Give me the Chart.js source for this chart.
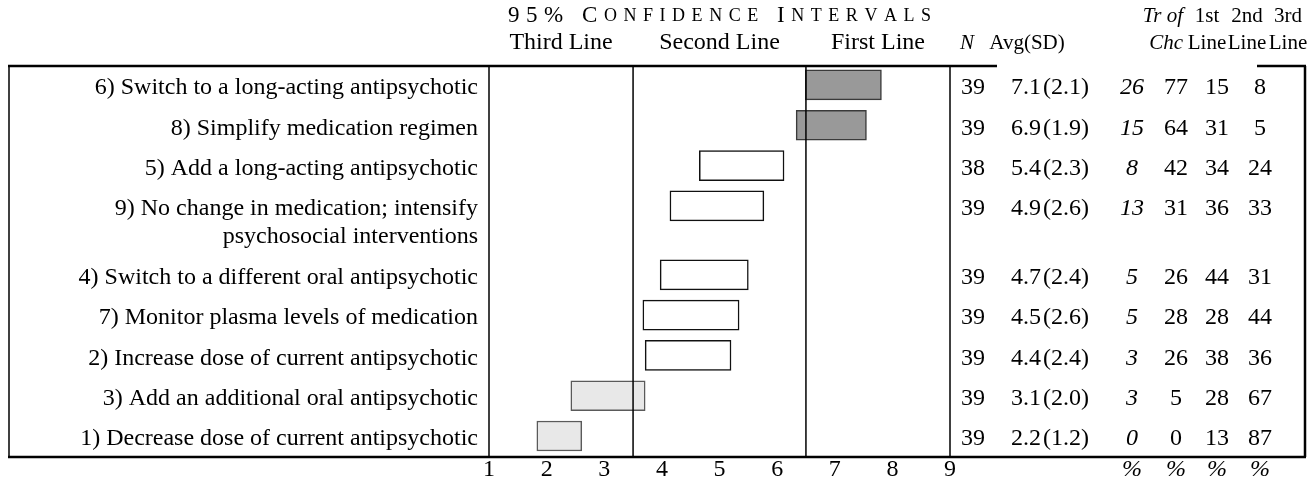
<!DOCTYPE html>
<html>
<head>
<meta charset="utf-8">
<script src="https://cdn.jsdelivr.net/npm/chart.js@4.4.0/dist/chart.umd.min.js"></script>
<style>
  html, body { margin: 0; padding: 0; background: #fff; }
  #wrap { width: 1315px; height: 483px; }
</style>
</head>
<body>
<div id="wrap"><canvas id="chart" width="1315" height="483"></canvas></div>
<script>
// rows in the order of the figure (top to bottom)
const treatments = [
  '6) Switch to a long-acting antipsychotic',
  '8) Simplify medication regimen',
  '5) Add a long-acting antipsychotic',
  ['9) No change in medication; intensify', 'psychosocial interventions'],
  '4) Switch to a different oral antipsychotic',
  '7) Monitor plasma levels of medication',
  '2) Increase dose of current antipsychotic',
  '3) Add an additional oral antipsychotic',
  '1) Decrease dose of current antipsychotic'
];
const ciLow  = [6.49, 6.33, 4.65, 4.14, 3.97, 3.67, 3.71, 2.42, 1.83];
const ciHigh = [7.81, 7.55, 6.12, 5.77, 5.50, 5.34, 5.20, 3.71, 2.61];
const nResp = [39, 39, 38, 39, 39, 39, 39, 39, 39];
const avgRating = ['7.1', '6.9', '5.4', '4.9', '4.7', '4.5', '4.4', '3.1', '2.2'];
const sdRating  = ['2.1', '1.9', '2.3', '2.6', '2.4', '2.6', '2.4', '2.0', '1.2'];
const treatmentOfChoice = [26, 15, 8, 13, 5, 5, 3, 3, 0];
const firstLine  = [77, 64, 42, 31, 26, 28, 26, 5, 0];
const secondLine = [15, 31, 34, 36, 44, 28, 38, 28, 13];
const thirdLine  = [8, 5, 24, 33, 31, 44, 36, 67, 87];
const xTicks = [1, 2, 3, 4, 5, 6, 7, 8, 9];
const sectionNames = ['Third Line', 'Second Line', 'First Line'];
const sectionBounds = [1, 3.5, 6.5, 9];

const SERIF = '"Liberation Serif", "Times New Roman", serif';
const FS = 24;
const HFS = 21;

// two-line labels get a taller row
const EXTRA_LINE = 0.71;
const rowPos = [];
let acc = 0;
treatments.forEach(t => {
  rowPos.push(acc);
  acc += 1 + (Array.isArray(t) ? (t.length - 1) * EXTRA_LINE : 0);
});

// bar shade follows the zone the mean rating falls in
const zoneFill = ['#e8e8e8', '#ffffff', '#999999'];
const zoneEdge = ['#5a5a5a', '#111111', '#3a3a3a'];
const zoneOf = v => (v >= sectionBounds[2] ? 2 : v >= sectionBounds[1] ? 1 : 0);
const fills = avgRating.map(v => zoneFill[zoneOf(parseFloat(v))]);
const edges = avgRating.map(v => zoneEdge[zoneOf(parseFloat(v))]);

function font(size, italic) {
  return (italic ? 'italic ' : '') + size + 'px ' + SERIF;
}

function drawSpaced(ctx, parts, cx, cy, targetW) {
  // parts: [text, size]; draws char by char, stretched to targetW
  const chars = [];
  parts.forEach(([t, s]) => { for (const c of t) chars.push([c, s]); });
  let natural = 0;
  chars.forEach(([c, s]) => { ctx.font = font(s); natural += ctx.measureText(c).width; });
  const gap = (targetW - natural) / (chars.length - 1);
  let x = cx - targetW / 2;
  ctx.textAlign = 'left';
  chars.forEach(([c, s]) => {
    ctx.font = font(s);
    ctx.fillText(c, x, cy);
    x += ctx.measureText(c).width + gap;
  });
}

const tablePlugin = {
  id: 'tableFrame',
  afterDatasetsDraw(chart) {
    const { ctx, chartArea: a, scales: { x, y } } = chart;
    ctx.save();
    ctx.strokeStyle = '#000';
    ctx.lineWidth = 1.5;
    sectionBounds.forEach(v => {
      const px = x.getPixelForValue(v);
      ctx.beginPath();
      ctx.moveTo(px, a.top);
      ctx.lineTo(px, a.bottom);
      ctx.stroke();
    });

    // outer frame
    const left = 9, right = 1305;
    ctx.lineWidth = 1.5;
    ctx.beginPath();
    ctx.moveTo(left, a.top); ctx.lineTo(left, a.bottom);
    ctx.stroke();
    ctx.lineWidth = 2.5;
    ctx.beginPath();
    ctx.moveTo(right, a.top); ctx.lineTo(right, a.bottom);
    ctx.stroke();
    ctx.beginPath();
    ctx.moveTo(left - 1, a.top); ctx.lineTo(997, a.top);
    ctx.moveTo(1257, a.top); ctx.lineTo(right + 1, a.top);
    ctx.moveTo(left - 1, a.bottom); ctx.lineTo(right + 1, a.bottom);
    ctx.stroke();

    ctx.fillStyle = '#000';
    ctx.textBaseline = 'middle';

    // header
    const midX = (a.left + a.right) / 2;
    drawSpaced(ctx, [['95%', FS - 1], [' ', FS - 1], ['C', FS - 1], ['ONFIDENCE', 18],
      [' ', FS - 1], ['I', FS - 1], ['NTERVALS', 18]], midX, 16, 423);
    ctx.font = font(FS);
    ctx.textAlign = 'center';
    sectionNames.forEach((n, i) => {
      const cx = (x.getPixelForValue(sectionBounds[i]) + x.getPixelForValue(sectionBounds[i + 1])) / 2;
      ctx.fillText(n, cx, 43);
    });

    ctx.font = font(HFS, true);
    ctx.fillText('N', 967, 43);
    ctx.textAlign = 'right';
    ctx.fillText('Tr of', 1183, 16);
    ctx.fillText('Chc', 1183, 43);
    ctx.font = font(HFS);
    ctx.textAlign = 'center';
    ctx.fillText('Avg(SD)', 1027, 43);
    const lineCols = [1207, 1247, 1288];
    ['1st', '2nd', '3rd'].forEach((h, k) => {
      ctx.fillText(h, lineCols[k], 16);
      ctx.fillText('Line', lineCols[k], 43);
    });

    const cols = { n: 973, avg: 1050, tr: 1132, c1: 1176, c2: 1217, c3: 1260 };
    // row labels and table cells
    treatments.forEach((t, i) => {
      const py = y.getPixelForValue(rowPos[i]) + 3;
      const lines = Array.isArray(t) ? t : [t];
      ctx.font = font(FS);
      ctx.textAlign = 'right';
      lines.forEach((ln, k) => ctx.fillText(ln, a.left - 11, py + k * 28));
      ctx.textAlign = 'center';
      ctx.fillText(String(nResp[i]), cols.n, py);
      ctx.fillText(avgRating[i] + '\u200A(' + sdRating[i] + ')', cols.avg, py);
      ctx.fillText(String(firstLine[i]), cols.c1, py);
      ctx.fillText(String(secondLine[i]), cols.c2, py);
      ctx.fillText(String(thirdLine[i]), cols.c3, py);
      ctx.font = font(FS, true);
      ctx.fillText(String(treatmentOfChoice[i]), cols.tr, py);
    });

    // percent units under the share columns
    ctx.font = font(FS, true);
    [cols.tr, cols.c1, cols.c2, cols.c3].forEach(cx => ctx.fillText('%', cx, 470));
    ctx.restore();
  }
};

new Chart(document.getElementById('chart'), {
  type: 'bar',
  data: {
    datasets: [{
      data: rowPos.map((p, i) => ({ x: [ciLow[i], ciHigh[i]], y: p })),
      backgroundColor: fills,
      borderColor: edges,
      borderWidth: 1.5,
      borderSkipped: false,
      barThickness: 30
    }]
  },
  options: {
    indexAxis: 'y',
    responsive: false,
    animation: false,
    layout: { padding: { left: 489, right: 365, top: 66, bottom: 0 } },
    plugins: { legend: { display: false }, tooltip: { enabled: false } },
    scales: {
      x: {
        type: 'linear',
        min: xTicks[0],
        max: xTicks[xTicks.length - 1],
        position: 'bottom',
        grid: { display: false, drawTicks: false },
        border: { display: false },
        afterBuildTicks: s => { s.ticks = xTicks.map(v => ({ value: v })); },
        ticks: { padding: 1, color: '#000', font: { family: SERIF, size: FS, lineHeight: 1 } },
        afterFit: s => { s.height = 26; }
      },
      y: {
        type: 'linear',
        reverse: true,
        offset: false,
        min: -0.47,
        max: 9.23,
        display: false
      }
    }
  },
  plugins: [tablePlugin]
});
</script>
</body>
</html>
